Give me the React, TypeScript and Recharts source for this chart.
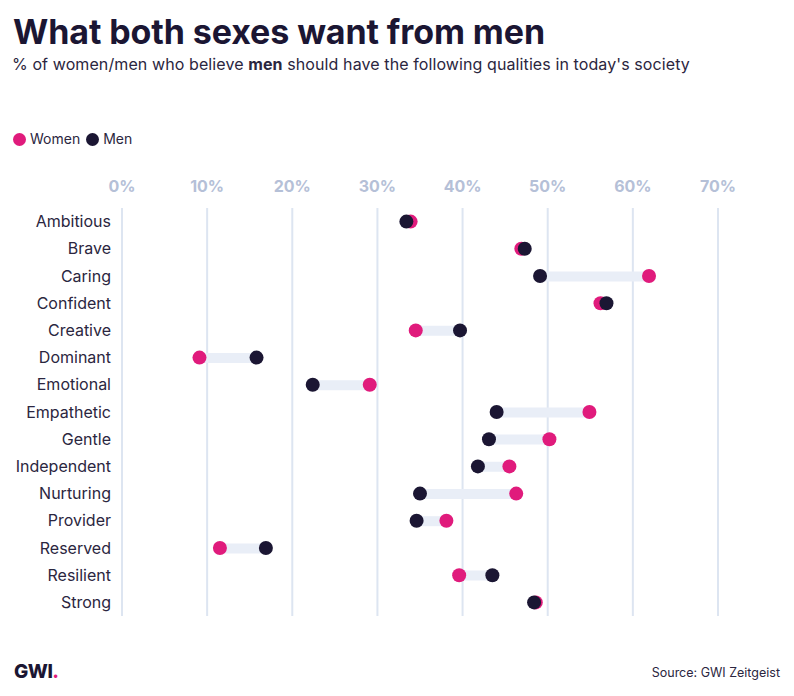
import { Bar, CartesianGrid, ComposedChart, Line, XAxis, YAxis } from "recharts";

const qualities = [
  "Ambitious",
  "Brave",
  "Caring",
  "Confident",
  "Creative",
  "Dominant",
  "Emotional",
  "Empathetic",
  "Gentle",
  "Independent",
  "Nurturing",
  "Provider",
  "Reserved",
  "Resilient",
  "Strong",
];

const womenPct = [33.9, 46.9, 61.9, 56.2, 34.5, 9.1, 29.1, 54.9, 50.2, 45.5, 46.3, 38.1, 11.5, 39.6, 48.6];
const menPct = [33.4, 47.3, 49.1, 56.9, 39.7, 15.8, 22.4, 44.0, 43.1, 41.8, 35.0, 34.6, 16.9, 43.5, 48.4];

const pctTicks = [0, 10, 20, 30, 40, 50, 60, 70];

const PINK = "#e01b7c";
const NAVY = "#1b1633";
const FONT = "Inter, 'Noto Sans', sans-serif";

const rows = qualities.map((name, i) => ({
  name,
  women: womenPct[i],
  men: menPct[i],
  gap: [Math.min(womenPct[i], menPct[i]), Math.max(womenPct[i], menPct[i])],
}));

function LegendDot({ color, label }: { color: string; label: string }) {
  return (
    <span style={{ display: "inline-flex", alignItems: "center", marginRight: 6 }}>
      <span
        style={{
          width: 13,
          height: 13,
          borderRadius: "50%",
          background: color,
          display: "inline-block",
          marginRight: 4,
        }}
      />
      {label}
    </span>
  );
}

export default function App() {
  return (
    <div
      style={{
        position: "fixed",
        top: 0,
        left: 0,
        width: 794,
        height: 696,
        background: "#fff",
        fontFamily: FONT,
        color: NAVY,
      }}
    >
      <div
        style={{
          position: "absolute",
          left: 13,
          top: 12,
          fontSize: 34,
          fontWeight: 700,
          letterSpacing: -0.1,
          lineHeight: "40px",
        }}
      >
        What both sexes want from men
      </div>
      <div
        style={{
          position: "absolute",
          left: 12,
          top: 54,
          fontSize: 16,
          letterSpacing: 0.1,
          color: "#2b2640",
          lineHeight: "20px",
        }}
      >
        % of women/men who believe <b>men</b> should have the following qualities in today's society
      </div>
      <div
        style={{
          position: "absolute",
          left: 13,
          top: 130,
          fontSize: 14,
          color: "#2b2640",
          display: "flex",
          lineHeight: "18px",
        }}
      >
        <LegendDot color={PINK} label="Women" />
        <LegendDot color={NAVY} label="Men" />
      </div>

      <div style={{ position: "absolute", left: 0, top: 0 }}>
        <ComposedChart
          width={794}
          height={640}
          data={rows}
          layout="vertical"
          margin={{ top: 178, right: 76, bottom: 24, left: 0 }}
        >
          <CartesianGrid horizontal={false} stroke="#dde5f1" strokeWidth={2} />
          <XAxis
            type="number"
            orientation="top"
            domain={[0, 70]}
            ticks={pctTicks}
            tickFormatter={(v: number) => `${v}%`}
            axisLine={false}
            tickLine={false}
            tickMargin={10}
            height={30}
            tick={{ fill: "#b5c0d7", fontSize: 16, fontWeight: 700, fontFamily: FONT }}
          />
          <YAxis
            type="category"
            dataKey="name"
            width={122}
            axisLine={false}
            tickLine={false}
            tickMargin={5}
            interval={0}
            tick={{ fill: "#2b2640", fontSize: 16, fontFamily: FONT }}
          />
          <Bar dataKey="gap" barSize={10} fill="#e9eef7" isAnimationActive={false} />
          <Line
            dataKey="women"
            stroke="none"
            dot={{ r: 7, fill: PINK, stroke: "none" }}
            activeDot={false}
            isAnimationActive={false}
          />
          <Line
            dataKey="men"
            stroke="none"
            dot={{ r: 7, fill: NAVY, stroke: "none" }}
            activeDot={false}
            isAnimationActive={false}
          />
        </ComposedChart>
      </div>

      <div
        style={{
          position: "absolute",
          left: 14,
          top: 660,
          fontSize: 19,
          fontWeight: 800,
          letterSpacing: -0.5,
        }}
      >
        GWI<span style={{ color: PINK }}>.</span>
      </div>
      <div
        style={{
          position: "absolute",
          right: 14,
          top: 665,
          fontSize: 12.5,
          color: "#2b2640",
        }}
      >
        Source: GWI Zeitgeist
      </div>
    </div>
  );
}
